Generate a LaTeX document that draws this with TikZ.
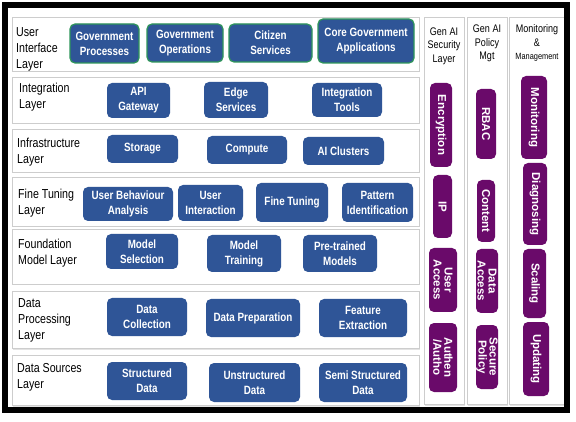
\documentclass[tikz,border=0pt]{standalone}
\usepackage{fontspec}
\setmainfont{Liberation Sans}
\newfontfamily\narrowfont[FakeStretch=0.82]{Liberation Sans}
\usetikzlibrary{shadows}

\definecolor{boxblue}{RGB}{47,85,151}
\definecolor{uigreen}{RGB}{46,150,90}
\definecolor{mgtpurple}{RGB}{106,10,106}
\definecolor{panelgray}{RGB}{205,205,205}

\tikzset{
  panel/.style={draw=panelgray, fill=white, line width=0.8pt, inner sep=0pt,
    drop shadow={shadow xshift=1.2pt, shadow yshift=-1.5pt, fill=black!22}},
  layerlabel/.style={anchor=west, align=left, inner sep=0pt,
    font=\narrowfont\fontsize{13}{16}\selectfont},
  blockbox/.style={fill=boxblue, rounded corners=5pt, text=white, align=center, inner sep=0pt,
    font=\narrowfont\bfseries\fontsize{12}{15}\selectfont},
  uibox/.style={blockbox, draw=uigreen, line width=1.2pt},
  sidebox/.style={fill=mgtpurple, rounded corners=5pt, text=white, align=center, inner sep=0pt,
    rotate=-90, font=\bfseries\fontsize{11.5}{11}\selectfont},
  colhead/.style={align=center, inner sep=0pt,
    font=\narrowfont\fontsize{11}{13.5}\selectfont},
}

\begin{document}
\begin{tikzpicture}[x=1pt, y=-1pt]

\useasboundingbox (0,0) rectangle (576,422);

\begin{scope}

% layer panels
\node[panel, minimum width=407, minimum height=54] (uip)    at (215.5,44)    {};
\node[panel, minimum width=407, minimum height=46] (integp) at (215.5,100)   {};
\node[panel, minimum width=407, minimum height=43] (infrap) at (215.5,150.5) {};
\node[panel, minimum width=407, minimum height=49] (finep)  at (215.5,201.5) {};
\node[panel, minimum width=407, minimum height=55] (foundp) at (215.5,256.5) {};
\node[panel, minimum width=407, minimum height=57] (procp)  at (215.5,319.5) {};
\node[panel, minimum width=407, minimum height=50] (srcp)   at (215.5,380)   {};

% side columns
\node[panel, minimum width=40, minimum height=387] (secp) at (444,210.5)   {};
\node[panel, minimum width=40, minimum height=387] (polp) at (487,210.5)   {};
\node[panel, minimum width=55, minimum height=387] (monp) at (536.5,210.5) {};

% layer names
\node[layerlabel] (uil)    at (16,49)  {User\\Interface\\Layer};
\node[layerlabel] (integl) at (19,97)  {Integration\\Layer};
\node[layerlabel] (infral) at (17,152) {Infrastructure\\Layer};
\node[layerlabel] (finel)  at (18,203) {Fine Tuning\\Layer};
\node[layerlabel] (foundl) at (18,253) {Foundation\\Model Layer};
\node[layerlabel] (procl)  at (18,320) {Data\\Processing\\Layer};
\node[layerlabel] (srcl)   at (17,377) {Data Sources\\Layer};

\node[colhead] (sech) at (444,46)   {Gen AI\\Security\\Layer};
\node[colhead] (polh) at (487,43.5) {Gen AI\\Policy\\Mgt};
\node[colhead] (monh) at (537,43)   {Monitoring\\\&\\{\fontsize{9}{11}\selectfont Management}};

% user interface layer
\node[uibox, minimum width=69, minimum height=39] (gp)  at (104.5,43.5) {Government\\Processes};
\node[uibox, minimum width=76, minimum height=38] (go)  at (185,43)     {Government\\Operations};
\node[uibox, minimum width=83, minimum height=38] (cs)  at (270.5,43)   {Citizen\\Services};
\node[uibox, minimum width=96, minimum height=44] (cga) at (366,41)     {Core Government\\Applications};

% integration layer
\node[blockbox, minimum width=63, minimum height=35] (api)    at (138.5,100.5) {API\\Gateway};
\node[blockbox, minimum width=64, minimum height=36] (edge)   at (236,100)     {Edge\\Services};
\node[blockbox, minimum width=70, minimum height=34] (itools) at (347,100)     {Integration\\Tools};

% infrastructure layer
\node[blockbox, minimum width=71, minimum height=28] (stor) at (142.5,149) {Storage};
\node[blockbox, minimum width=80, minimum height=28] (comp) at (247,150)   {Compute};
\node[blockbox, minimum width=81, minimum height=28] (aicl) at (343.5,151) {AI Clusters};

% fine tuning layer
\node[blockbox, minimum width=90, minimum height=34] (uba)  at (128,204)     {User Behaviour\\Analysis};
\node[blockbox, minimum width=65, minimum height=36] (uint) at (210.5,203)   {User\\Interaction};
\node[blockbox, minimum width=72, minimum height=39] (ftun) at (292,202.5)   {Fine Tuning};
\node[blockbox, minimum width=71, minimum height=39] (pid)  at (377.5,202.5) {Pattern\\Identification};

% foundation model layer
\node[blockbox, minimum width=72, minimum height=35] (msel) at (142,251.5) {Model\\Selection};
\node[blockbox, minimum width=74, minimum height=37] (mtr)  at (244,253.5) {Model\\Training};
\node[blockbox, minimum width=74, minimum height=37] (ptm)  at (340,253.5) {Pre-trained\\Models};

% data processing layer
\node[blockbox, minimum width=80, minimum height=38] (dcol)  at (147,317) {Data\\Collection};
\node[blockbox, minimum width=94, minimum height=38] (dprep) at (253,318) {Data Preparation};
\node[blockbox, minimum width=88, minimum height=38] (fext)  at (363,318) {Feature\\Extraction};

% data sources layer
\node[blockbox, minimum width=80, minimum height=38] (sdat)  at (147,381)   {Structured\\Data};
\node[blockbox, minimum width=91, minimum height=39] (udat)  at (254.5,382.5) {Unstructured\\Data};
\node[blockbox, minimum width=88, minimum height=39] (ssdat) at (363,382.5) {Semi Structured\\Data};

% security column
\node[sidebox, minimum width=84, minimum height=22] (enc)  at (441,125)   {Encryption};
\node[sidebox, minimum width=63, minimum height=19] (ip)   at (442.5,206.5) {IP};
\node[sidebox, minimum width=64, minimum height=28] (uacc) at (443,280)   {User\\Access};
\node[sidebox, minimum width=69, minimum height=28] (auth) at (443,357.5) {Authen\\/Autho};

% policy column
\node[sidebox, minimum width=70, minimum height=20] (rbac) at (486,124) {RBAC};
\node[sidebox, minimum width=62, minimum height=18] (cont) at (486,211) {Content};
\node[sidebox, minimum width=64, minimum height=22] (dacc) at (487,281) {Data\\Access};
\node[sidebox, minimum width=64, minimum height=22] (spol) at (487,357) {Secure\\Policy};

% monitoring column
\node[sidebox, minimum width=83, minimum height=26] (moni) at (534,117.5)   {Monitoring};
\node[sidebox, minimum width=82, minimum height=24] (diag) at (535,204)     {Diagnosing};
\node[sidebox, minimum width=69, minimum height=23] (scal) at (534.5,283.5) {Scaling};
\node[sidebox, minimum width=74, minimum height=26] (upd)  at (536,359)     {Updating};

\draw[line width=6pt] (5,5.5) rectangle (567,410);

\end{scope}

\end{tikzpicture}
\end{document}
